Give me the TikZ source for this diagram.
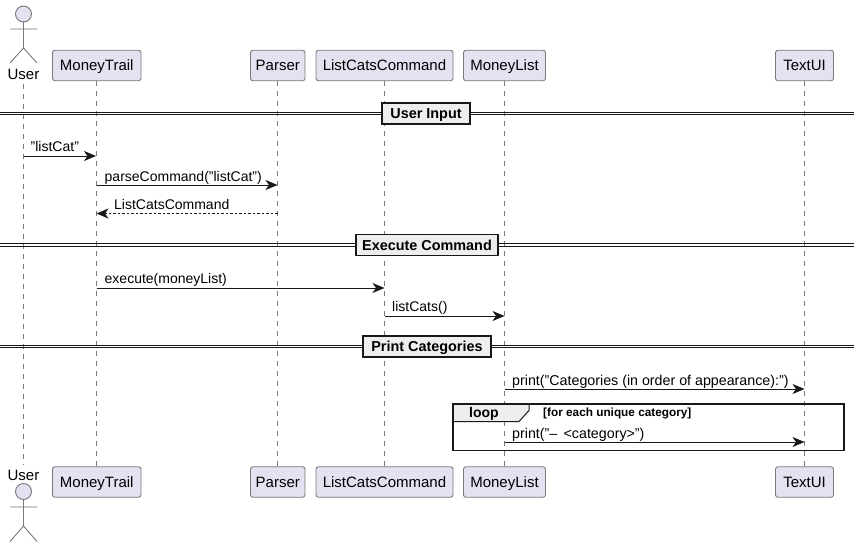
\documentclass[tikz,border=0pt]{standalone}
\usepackage{fontspec}
\setmainfont{Liberation Sans}
\usetikzlibrary{arrows.meta}
\definecolor{umlblue}{RGB}{226, 226, 240}
\definecolor{umlgrey}{RGB}{238, 238, 238}
\definecolor{umlline}{RGB}{24, 24, 24}
\definecolor{umledge}{RGB}{120, 120, 125}
\tikzset{
  partbox/.style={draw=umledge, line width=0.9pt, fill=umlblue, rounded corners=2.5pt, minimum height=30.5pt, inner sep=0pt, text height=12pt, text depth=2pt, font=\fontsize{15}{18}\selectfont},
  actorline/.style={draw=umledge, line width=0.9pt},
  lifeline/.style={draw=umledge, line width=0.7pt, dash pattern=on 5pt off 5pt},
  msgline/.style={draw=umlline, line width=0.9pt, -{Stealth[length=12pt,width=10pt,inset=3.5pt]}},
  msgback/.style={msgline, dash pattern=on 2.5pt off 2pt},
  msgtext/.style={inner sep=0pt, anchor=base west, font=\fontsize{14}{16}\selectfont},
  printtext/.style={msgtext, font=\fontsize{14.25}{16}\selectfont},
  dividerbox/.style={draw=umlline, line width=1.8pt, fill=umlgrey, inner sep=0pt, minimum height=21pt, text height=11pt, text depth=1pt, font=\bfseries\fontsize{14.4}{16}\selectfont},
  dividerline/.style={draw=umlline, line width=0.9pt}
}
\begin{document}
\begin{tikzpicture}[x=1pt, y=-1pt]
\useasboundingbox (0,0) rectangle (859,547);

% Lifelines first, everything else sits on top
\node[inner sep=0pt] (UserTop) at (23.5,83) {};
\node[inner sep=0pt] (UserEnd) at (23.5,466) {};
\node[partbox, minimum width=88.5pt] (TrailTop) at (96.75,65.5) {MoneyTrail};
\node[partbox, minimum width=54.5pt] (ParserTop) at (277.75,65.5) {Parser};
\node[partbox, minimum width=137pt] (CmdTop) at (384.5,65.5) {ListCatsCommand};
\node[partbox, minimum width=82pt] (ListTop) at (504.5,65.5) {MoneyList};
\node[partbox, minimum width=58pt] (UiTop) at (804.5,65.5) {TextUI};
\node[partbox, minimum width=88.5pt] (TrailEnd) at (96.75,482) {MoneyTrail};
\node[partbox, minimum width=54.5pt] (ParserEnd) at (277.75,482) {Parser};
\node[partbox, minimum width=137pt] (CmdEnd) at (384.5,482) {ListCatsCommand};
\node[partbox, minimum width=82pt] (ListEnd) at (504.5,482) {MoneyList};
\node[partbox, minimum width=58pt] (UiEnd) at (804.5,482) {TextUI};
\draw[lifeline] (UserTop) -- (UserEnd);
\draw[lifeline] (TrailTop) -- (TrailEnd);
\draw[lifeline] (ParserTop) -- (ParserEnd);
\draw[lifeline] (CmdTop) -- (CmdEnd);
\draw[lifeline] (ListTop) -- (ListEnd);
\draw[lifeline] (UiTop) -- (UiEnd);

% User, top
\draw[actorline, fill=umlblue] (23.5,14) circle (8);
\draw[actorline] (23.5,22) -- (23.5,48) (10,29) -- (37,29) (10,63) -- (23.5,48) -- (37,63);
\node[font=\fontsize{15}{18}\selectfont] (UserLabelTop) at (23.5,74) {User};

% User, bottom
\draw[actorline, fill=umlblue] (23.5,491.5) circle (8);
\draw[actorline] (23.5,499.5) -- (23.5,526) (10,507) -- (37,507) (10,541.5) -- (23.5,526) -- (37,541.5);
\node[font=\fontsize{15}{18}\selectfont] (UserLabelEnd) at (23.5,475) {User};

% User Input
\coordinate (DivOneL) at (0,113.5);
\coordinate (DivOneR) at (854,113.5);
\draw[dividerline] ([yshift=-1.4pt]DivOneL) -- ([yshift=-1.4pt]DivOneR);
\draw[dividerline] ([yshift=1.4pt]DivOneL) -- ([yshift=1.4pt]DivOneR);
\node[dividerbox, minimum width=88pt] (DivOne) at (426,113.5) {User Input};

\coordinate (MsgOneA) at (23.5,156);
\coordinate (MsgOneB) at (96,156);
\draw[msgline] (MsgOneA) -- (MsgOneB);
\node[msgtext] (TxtOne) at (30.5,151) {"listCat"};

\coordinate (MsgTwoA) at (96.5,185);
\coordinate (MsgTwoB) at (277.5,185);
\draw[msgline] (MsgTwoA) -- (MsgTwoB);
\node[msgtext] (TxtTwo) at (104.5,181) {parseCommand("listCat")};

\coordinate (MsgThreeA) at (277.5,213.5);
\coordinate (MsgThreeB) at (96.5,213.5);
\draw[msgback] (MsgThreeA) -- (MsgThreeB);
\node[msgtext] (TxtThree) at (114,209.5) {ListCatsCommand};

% Execute Command
\coordinate (DivTwoL) at (0,245);
\coordinate (DivTwoR) at (854,245);
\draw[dividerline] ([yshift=-1.4pt]DivTwoL) -- ([yshift=-1.4pt]DivTwoR);
\draw[dividerline] ([yshift=1.4pt]DivTwoL) -- ([yshift=1.4pt]DivTwoR);
\node[dividerbox, minimum width=142pt] (DivTwo) at (427,245) {Execute Command};

\coordinate (MsgFourA) at (96.5,288);
\coordinate (MsgFourB) at (384.5,288);
\draw[msgline] (MsgFourA) -- (MsgFourB);
\node[msgtext] (TxtFour) at (104.5,283) {execute(moneyList)};

\coordinate (MsgFiveA) at (384.5,316);
\coordinate (MsgFiveB) at (504.5,316);
\draw[msgline] (MsgFiveA) -- (MsgFiveB);
\node[msgtext] (TxtFive) at (392,311.5) {listCats()};

% Print Categories
\coordinate (DivThreeL) at (0,346.5);
\coordinate (DivThreeR) at (854,346.5);
\draw[dividerline] ([yshift=-1.4pt]DivThreeL) -- ([yshift=-1.4pt]DivThreeR);
\draw[dividerline] ([yshift=1.4pt]DivThreeL) -- ([yshift=1.4pt]DivThreeR);
\node[dividerbox, minimum width=128pt] (DivThree) at (427,346.5) {Print Categories};

\coordinate (MsgSixA) at (504.5,389);
\coordinate (MsgSixB) at (804.5,389);
\draw[msgline] (MsgSixA) -- (MsgSixB);
\node[printtext] (TxtSix) at (512,385) {print("Categories (in order of appearance):")};

% Loop frame
\draw[fill=umlgrey, draw=umlline, line width=1pt] (453,404) -- (529,404) -- (529,410.5) -- (519,421.5) -- (453,421.5) -- cycle;
\draw[draw=umlline, line width=1.8pt] (453,404) rectangle (844,450.5);
\node[font=\bfseries\fontsize{14}{16}\selectfont, inner sep=0pt] (LoopName) at (484,414) {loop};
\node[font=\bfseries\fontsize{11.8}{13}\selectfont, inner sep=0pt, anchor=west] (LoopGuard) at (543,413) {[for each unique category]};

\coordinate (MsgSevenA) at (504.5,442);
\coordinate (MsgSevenB) at (804.5,442);
\draw[msgline] (MsgSevenA) -- (MsgSevenB);
\node[printtext] (TxtSeven) at (512,438) {print("– \,<category>")};
\end{tikzpicture}
\end{document}
